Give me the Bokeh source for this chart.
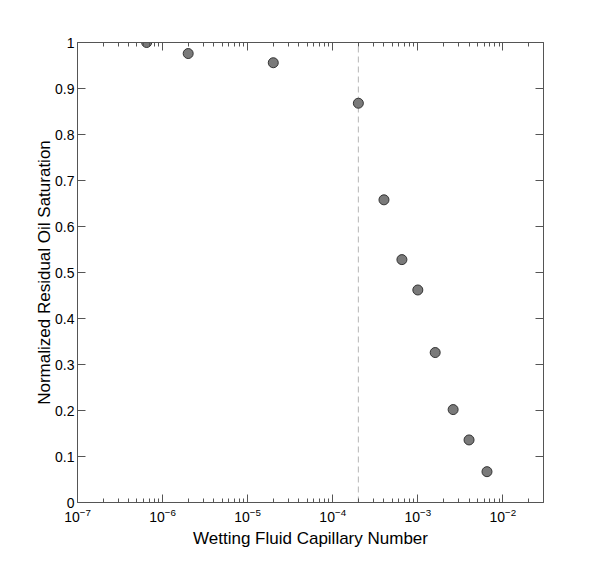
from bokeh.plotting import figure
from bokeh.models import LogAxis, LinearAxis, FixedTicker, Range1d
from bokeh.embed import file_html
from bokeh.resources import INLINE

# Data
cap_number = [6.5e-7, 2e-6, 2e-5, 2e-4, 4e-4, 6.5e-4, 1e-3, 1.6e-3, 2.6e-3, 4e-3, 6.5e-3]
norm_sor = [1.0, 0.976, 0.956, 0.868, 0.658, 0.528, 0.462, 0.326, 0.202, 0.136, 0.067]
critical_nc = [2e-4, 2e-4]
critical_y = [0.0, 1.0]

x_major = [1e-7, 1e-6, 1e-5, 1e-4, 1e-3, 1e-2]
x_minor = [k * 10.0 ** e for e in range(-7, -1) for k in range(2, 10) if k * 10.0 ** e <= 3e-2]
y_ticks = [0.0, 0.1, 0.2, 0.3, 0.4, 0.5, 0.6, 0.7, 0.8, 0.9, 1.0]
y_overrides = {0.0: "0", 1.0: "1"}

FONT = "Liberation Sans"
AX = "#555555"

p = figure(x_axis_type="log", x_range=Range1d(1e-7, 3e-2), y_range=Range1d(0, 1),
           frame_width=466, frame_height=460,
           min_border_left=77, min_border_top=42, min_border_right=40, min_border_bottom=47,
           output_backend="svg", toolbar_location=None)
p.grid.visible = False
p.outline_line_color = None
p.background_fill_color = "white"
p.border_fill_color = "white"

def style(ax, labels=True):
    ax.axis_line_color = AX
    ax.major_tick_line_color = AX
    ax.minor_tick_line_color = AX
    ax.major_tick_in = 8
    ax.major_tick_out = 0
    ax.minor_tick_in = 4
    ax.minor_tick_out = 0
    ax.major_label_text_font = FONT
    ax.major_label_text_font_size = "14px"
    ax.major_label_text_color = "black"
    ax.axis_label_text_font = FONT
    ax.axis_label_text_font_size = "17px"
    ax.axis_label_text_font_style = "normal"
    ax.axis_label_text_color = "black"
    if not labels:
        ax.major_label_text_alpha = 0

xax = p.xaxis[0]
xax.ticker = FixedTicker(ticks=x_major, minor_ticks=x_minor)
xax.axis_label = "Wetting Fluid Capillary Number"
style(xax)
xax.major_label_standoff = 5
xax.axis_label_standoff = 4

yax = p.yaxis[0]
yax.ticker = FixedTicker(ticks=y_ticks)
yax.major_label_overrides = y_overrides
yax.axis_label = "Normalized Residual Oil Saturation"
style(yax)
yax.major_label_standoff = 3
yax.axis_label_standoff = -2

top = LogAxis(ticker=FixedTicker(ticks=x_major, minor_ticks=x_minor))
style(top, labels=False)
p.add_layout(top, "above")

right = LinearAxis(ticker=FixedTicker(ticks=y_ticks))
style(right, labels=False)
right.minor_tick_in = 0
p.add_layout(right, "right")

p.line(critical_nc, critical_y, line_color="#b5b5b5", line_dash="6 4", line_width=1)
p.scatter(cap_number, norm_sor, size=10, fill_color="#7a7a7a", line_color="#333333", line_width=1)

open("out.html", "w").write(file_html(p, INLINE))
